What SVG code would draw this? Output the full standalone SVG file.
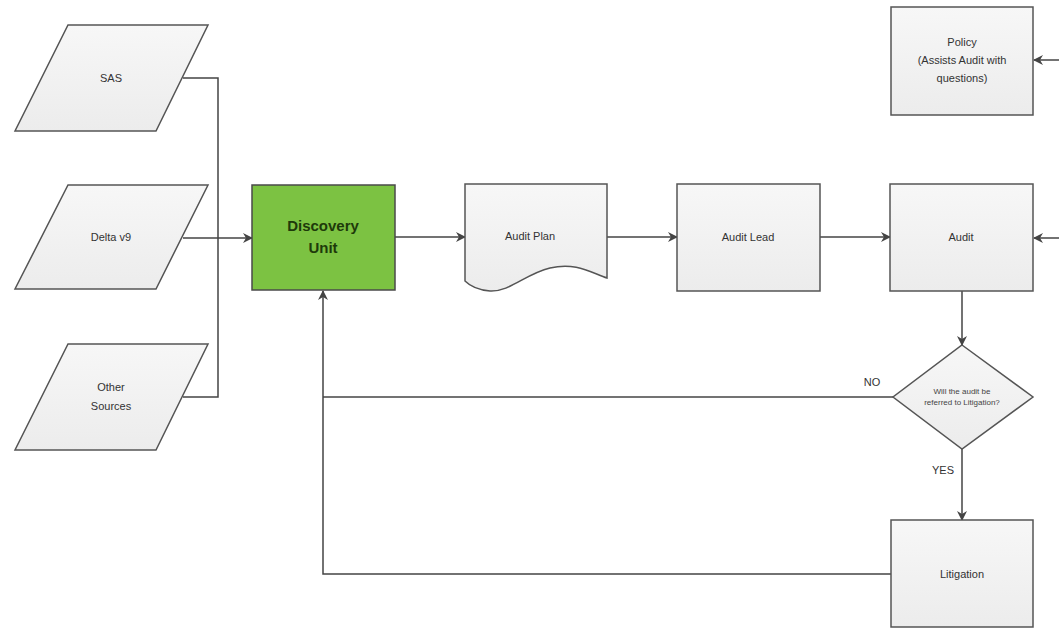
<svg xmlns="http://www.w3.org/2000/svg" width="1059" height="630" viewBox="0 0 1059 630">
<defs>
<linearGradient id="g" x1="0" y1="0" x2="0" y2="1"><stop offset="0" stop-color="#f7f7f7"/><stop offset="1" stop-color="#ececec"/></linearGradient>
<marker id="ah" markerWidth="10" markerHeight="10" refX="9" refY="5" orient="auto" markerUnits="userSpaceOnUse"><path d="M0,0 L10,5 L0,10 L3,5 Z" fill="#444"/></marker>
</defs>
<style>
.n{fill:url(#g);stroke:#555;stroke-width:1.5}
.t{font-family:"Liberation Sans",Arial,sans-serif;font-size:11px;fill:#333;text-anchor:middle}
.s{font-family:"Liberation Sans",Arial,sans-serif;font-size:8px;fill:#444;text-anchor:middle}
.c{fill:none;stroke:#444;stroke-width:1.5}
</style>
<rect width="1059" height="630" fill="#fff"/>
<g id="connectors">
<polyline class="c" points="183,78 218,78 218,397 183,397"/>
<line class="c" x1="183" y1="238" x2="252" y2="238" marker-end="url(#ah)"/>
<line class="c" x1="395" y1="237" x2="465" y2="237" marker-end="url(#ah)"/>
<line class="c" x1="607" y1="237" x2="677" y2="237" marker-end="url(#ah)"/>
<line class="c" x1="820" y1="237" x2="890" y2="237" marker-end="url(#ah)"/>
<line class="c" x1="1059" y1="238" x2="1034" y2="238" marker-end="url(#ah)"/>
<line class="c" x1="1059" y1="60" x2="1034" y2="60" marker-end="url(#ah)"/>
<line class="c" x1="962" y1="291" x2="962" y2="345" marker-end="url(#ah)"/>
<line class="c" x1="962" y1="449" x2="962" y2="520" marker-end="url(#ah)"/>
<polyline class="c" points="893,397 323,397"/>
<polyline class="c" points="891,574 323,574 323,291" marker-end="url(#ah)"/>
<text class="t" x="872" y="386">NO</text>
<text class="t" x="943" y="474">YES</text>
</g>
<g id="sas"><polygon class="n" points="68,25 208,25 156,131 15,131"/><text class="t" x="111" y="82">SAS</text></g>
<g id="delta"><polygon class="n" points="68,185 208,185 156,289 15,289"/><text class="t" x="111" y="241">Delta v9</text></g>
<g id="other"><polygon class="n" points="68,344 208,344 156,450 15,450"/><text class="t" x="111" y="391">Other</text><text class="t" x="111" y="410">Sources</text></g>
<g id="discovery"><rect x="252" y="185" width="143" height="105" fill="#7cc242" stroke="#4a4a4a" stroke-width="1.5"/><text x="323" y="231" font-family="Liberation Sans,Arial,sans-serif" font-size="15" font-weight="bold" fill="#1e3a0a" text-anchor="middle">Discovery</text><text x="323" y="253" font-family="Liberation Sans,Arial,sans-serif" font-size="15" font-weight="bold" fill="#1e3a0a" text-anchor="middle">Unit</text></g>
<g id="auditplan"><path class="n" d="M465,184 H607 V278 C590,272 575,262 550,268 C525,274 510,292 490,291 C478,290 470,286 465,281 Z"/><text class="t" x="530" y="240">Audit Plan</text></g>
<g id="auditlead"><rect class="n" x="677" y="184" width="143" height="107"/><text class="t" x="748" y="241">Audit Lead</text></g>
<g id="audit"><rect class="n" x="890" y="184" width="143" height="107"/><text class="t" x="961" y="241">Audit</text></g>
<g id="policy"><rect class="n" x="891" y="7" width="142" height="108"/><text class="t" x="962" y="46">Policy</text><text class="t" x="962" y="64">(Assists Audit with</text><text class="t" x="962" y="82">questions)</text></g>
<g id="decision"><polygon class="n" points="962,345 1033,397 962,449 893,397"/><text class="s" x="962" y="394">Will the audit be</text><text class="s" x="962" y="405">referred to Litigation?</text></g>
<g id="litigation"><rect class="n" x="891" y="520" width="142" height="107"/><text class="t" x="962" y="578">Litigation</text></g>
</svg>
